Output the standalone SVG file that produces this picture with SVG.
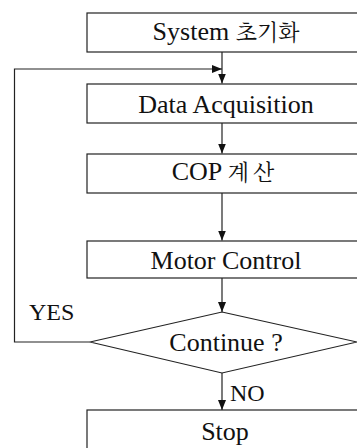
<svg xmlns="http://www.w3.org/2000/svg" width="357" height="448" viewBox="0 0 357 448">
  <defs>
    <marker id="arrow" viewBox="0 0 10 8" refX="10" refY="4" markerWidth="10" markerHeight="8" markerUnits="userSpaceOnUse" orient="auto">
      <path d="M0,0 L10,4 L0,8 Z" fill="#111"/>
    </marker>
    <style>
      .box { fill: #fff; stroke: #222; stroke-width: 1.2; }
      .edge { fill: none; stroke: #222; stroke-width: 1.2; }
    </style>
  </defs>
  <rect x="0" y="0" width="357" height="448" fill="#fff"/>

  <g id="connectors">
    <line class="edge" x1="222" y1="52" x2="222" y2="83.5" marker-end="url(#arrow)"/>
    <polyline class="edge" points="90,342 14.5,342 14.5,69 222,69" marker-end="url(#arrow)"/>
    <line class="edge" x1="222" y1="123" x2="222" y2="153.5" marker-end="url(#arrow)"/>
    <line class="edge" x1="222" y1="193" x2="222" y2="240.5" marker-end="url(#arrow)"/>
    <line class="edge" x1="222" y1="278" x2="222" y2="312" marker-end="url(#arrow)"/>
    <line class="edge" x1="222" y1="373" x2="222" y2="410" marker-end="url(#arrow)"/>
    <text x="29" y="320" font-family="Liberation Serif" font-size="24" fill="#111">YES</text>
    <text x="230" y="401" font-family="Liberation Serif" font-size="24" fill="#111">NO</text>
  </g>

  <g id="init">
    <rect class="box" x="87" y="13" width="290" height="39"/>
    <text x="226" y="40" font-family="Liberation Serif" font-size="26" fill="#111" text-anchor="middle">System <tspan font-family="Noto Serif CJK KR" font-size="22">초기화</tspan></text>
  </g>
  <g id="acquire">
    <rect class="box" x="87" y="84" width="290" height="39"/>
    <text x="226" y="113" font-family="Liberation Serif" font-size="26" fill="#111" text-anchor="middle">Data Acquisition</text>
  </g>
  <g id="cop">
    <rect class="box" x="87" y="154" width="290" height="39"/>
    <text x="225" y="180" font-family="Liberation Serif" font-size="26" fill="#111" text-anchor="middle">COP <tspan font-family="Noto Serif CJK KR" font-size="22" letter-spacing="4">계산</tspan></text>
  </g>
  <g id="motor">
    <rect class="box" x="87" y="241" width="290" height="37"/>
    <text x="226" y="269" font-family="Liberation Serif" font-size="26" fill="#111" text-anchor="middle">Motor Control</text>
  </g>
  <g id="decision">
    <polygon class="box" points="222,312 357,342 222,373 90,342"/>
    <text x="226" y="351" font-family="Liberation Serif" font-size="26" fill="#111" text-anchor="middle">Continue ?</text>
  </g>
  <g id="stop">
    <rect class="box" x="87" y="410" width="290" height="60"/>
    <text x="225" y="440" font-family="Liberation Serif" font-size="26" fill="#111" text-anchor="middle">Stop</text>
  </g>
</svg>
